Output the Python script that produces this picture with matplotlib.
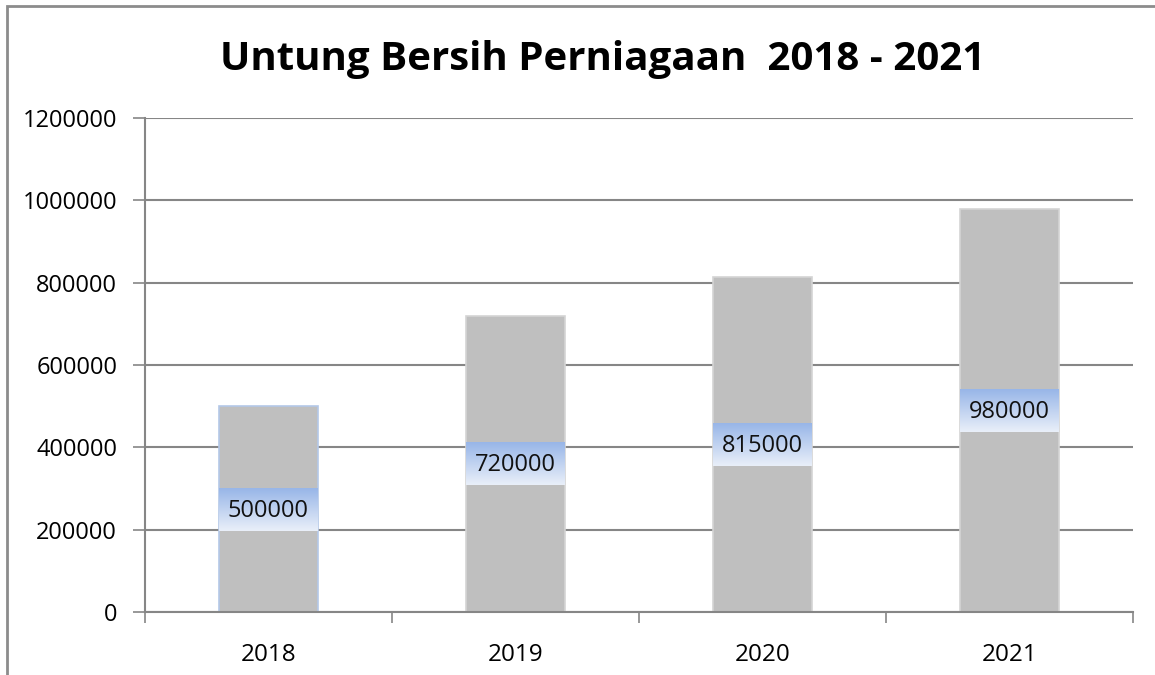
import numpy as np
import matplotlib.pyplot as plt
from matplotlib.colors import LinearSegmentedColormap
from matplotlib.patches import Rectangle

# Data
years = ["2018", "2019", "2020", "2021"]
profit = [500000, 720000, 815000, 980000]
y_ticks = [0, 200000, 400000, 600000, 800000, 1000000, 1200000]

plt.rcParams["font.family"] = ["Open Sans", "DejaVu Sans"]

fig = plt.figure(figsize=(11.55, 6.75), dpi=100)
ax = fig.add_axes([0.1255, 0.0933, 0.8555, 0.7317])

# outer chart border (top and left visible)
fig.patches.append(Rectangle((7 / 1155, -0.05), 1.2, 0.991 + 0.05,
                             transform=fig.transFigure, fill=False,
                             edgecolor="#8c8c8c", linewidth=2))

x = np.arange(len(years))
bar_w = 0.4
# first bar has a light blue outline in the original
edges = ["#b4c8e8", "#d4d4d4", "#d4d4d4", "#d4d4d4"]
ax.bar(x, profit, width=bar_w, color="#bfbfbf", edgecolor=edges,
       linewidth=1.2, zorder=2)

# value labels with gradient box in the middle of each bar
grad = LinearSegmentedColormap.from_list("lbl", ["#e9eff9", "#98b6e8"])
box_half = 52000
for xi, v in zip(x, profit):
    mid = v / 2
    ax.imshow(np.linspace(0, 1, 64).reshape(-1, 1), cmap=grad, aspect="auto",
              origin="lower", interpolation="bicubic",
              extent=(xi - bar_w / 2, xi + bar_w / 2, mid - box_half, mid + box_half),
              zorder=3)
    ax.text(xi, mid - 4000, str(v), ha="center", va="center", fontsize=17,
            color="#111111", zorder=4)

ax.set_xlim(-0.5, len(years) - 0.5)
ax.set_ylim(0, 1200000)
ax.set_yticks(y_ticks)
ax.set_yticklabels([str(t) for t in y_ticks], fontsize=17)
ax.set_xticks(x)
ax.set_xticklabels(years, fontsize=17.5)
ax.tick_params(axis="x", length=0, pad=22)
ax.tick_params(axis="y", length=9, width=1.2, color="#868686", pad=11)
# category boundary ticks on the x axis
ax.set_xticks(np.arange(len(years) + 1) - 0.5, minor=True)
ax.tick_params(axis="x", which="minor", length=8, width=1.2, color="#868686")

ax.grid(axis="y", color="#868686", linewidth=1.5, zorder=0)
ax.set_axisbelow(True)
for s in ["top", "right"]:
    ax.spines[s].set_visible(False)
for s in ["left", "bottom"]:
    ax.spines[s].set_color("#868686")
    ax.spines[s].set_linewidth(1.5)

fig.text(0.522, 0.912, "Untung Bersih Perniagaan  2018 - 2021", ha="center",
         va="center", fontsize=29, fontweight="bold", color="black")

fig.savefig("out.png", dpi=100)
